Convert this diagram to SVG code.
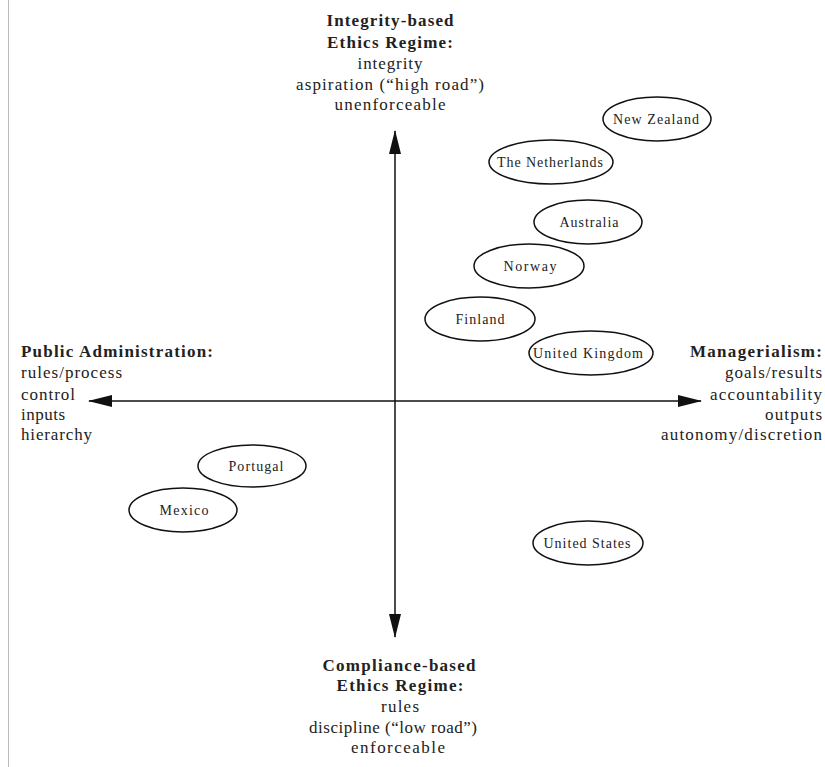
<svg xmlns="http://www.w3.org/2000/svg" width="825" height="767" viewBox="0 0 825 767">
<style>
  text { font-family: "Liberation Serif", "Times New Roman", serif; fill: #222; }
  .h { font-size: 17px; font-weight: bold; }
  .b { font-size: 17px; }
  .c { font-size: 14px; text-anchor: middle; }
  .mid { text-anchor: middle; }
  .end { text-anchor: end; }
  ellipse { fill: none; stroke: #111; stroke-width: 1.5; }
  .axis { stroke: #111; stroke-width: 1.5; fill: none; }
</style>
<defs>
  <marker id="arr" viewBox="0 0 24 12" refX="23" refY="6" markerWidth="24" markerHeight="12" markerUnits="userSpaceOnUse" orient="auto">
    <path d="M0,0 L24,6 L0,12 Z" fill="#111"/>
  </marker>
</defs>
<rect x="0" y="0" width="825" height="767" fill="#fff"/>
<line x1="8.5" y1="0" x2="8.5" y2="767" stroke="#bbb" stroke-width="1"/>

<g id="connectors">
  <line class="axis" x1="395" y1="400" x2="395" y2="131" marker-end="url(#arr)"/>
  <line class="axis" x1="395" y1="400" x2="395" y2="637" marker-end="url(#arr)"/>
  <line class="axis" x1="395" y1="401" x2="89" y2="401" marker-end="url(#arr)"/>
  <line class="axis" x1="395" y1="401" x2="701" y2="401" marker-end="url(#arr)"/>
</g>

<g id="integrity">
  <text class="h mid" x="390" y="26" textLength="127" lengthAdjust="spacing">Integrity-based</text>
  <text class="h mid" x="390" y="48" textLength="126" lengthAdjust="spacing">Ethics Regime:</text>
  <text class="b mid" x="390" y="69" textLength="65" lengthAdjust="spacing">integrity</text>
  <text class="b mid" x="390" y="90" textLength="188" lengthAdjust="spacing">aspiration (“high road”)</text>
  <text class="b mid" x="390" y="110" textLength="111" lengthAdjust="spacing">unenforceable</text>
</g>

<g id="compliance">
  <text class="h mid" x="399" y="671" textLength="153" lengthAdjust="spacing">Compliance-based</text>
  <text class="h mid" x="400" y="691" textLength="127" lengthAdjust="spacing">Ethics Regime:</text>
  <text class="b mid" x="400" y="712" textLength="38" lengthAdjust="spacing">rules</text>
  <text class="b mid" x="393" y="733" textLength="168" lengthAdjust="spacing">discipline (“low road”)</text>
  <text class="b mid" x="398" y="753" textLength="94" lengthAdjust="spacing">enforceable</text>
</g>

<g id="public-administration">
  <text class="h" x="21" y="357" textLength="192" lengthAdjust="spacing">Public Administration:</text>
  <text class="b" x="21" y="378" textLength="101" lengthAdjust="spacing">rules/process</text>
  <text class="b" x="21" y="400" textLength="54" lengthAdjust="spacing">control</text>
  <text class="b" x="21" y="420" textLength="44" lengthAdjust="spacing">inputs</text>
  <text class="b" x="21" y="440" textLength="71" lengthAdjust="spacing">hierarchy</text>
</g>

<g id="managerialism">
  <text class="h end" x="822" y="357" textLength="132" lengthAdjust="spacing">Managerialism:</text>
  <text class="b end" x="822" y="378" textLength="97" lengthAdjust="spacing">goals/results</text>
  <text class="b end" x="822" y="400" textLength="112" lengthAdjust="spacing">accountability</text>
  <text class="b end" x="822" y="420" textLength="57" lengthAdjust="spacing">outputs</text>
  <text class="b end" x="822" y="440" textLength="161" lengthAdjust="spacing">autonomy/discretion</text>
</g>

<g id="new-zealand">
  <ellipse cx="657" cy="119" rx="54" ry="22"/>
  <text class="c" x="656" y="124" textLength="86" lengthAdjust="spacing">New Zealand</text>
</g>
<g id="netherlands">
  <ellipse cx="551" cy="162" rx="62" ry="22"/>
  <text class="c" x="550" y="167" textLength="106" lengthAdjust="spacing">The Netherlands</text>
</g>
<g id="australia">
  <ellipse cx="588" cy="222" rx="54" ry="22"/>
  <text class="c" x="589" y="227" textLength="59" lengthAdjust="spacing">Australia</text>
</g>
<g id="norway">
  <ellipse cx="529" cy="266" rx="55" ry="22"/>
  <text class="c" x="530" y="271" textLength="53" lengthAdjust="spacing">Norway</text>
</g>
<g id="finland">
  <ellipse cx="480" cy="319" rx="55" ry="22"/>
  <text class="c" x="480" y="324" textLength="49" lengthAdjust="spacing">Finland</text>
</g>
<g id="united-kingdom">
  <ellipse cx="591" cy="353" rx="62" ry="22"/>
  <text class="c" x="588" y="358" textLength="110" lengthAdjust="spacing">United Kingdom</text>
</g>
<g id="portugal">
  <ellipse cx="252" cy="466" rx="54" ry="21"/>
  <text class="c" x="256" y="471" textLength="55" lengthAdjust="spacing">Portugal</text>
</g>
<g id="mexico">
  <ellipse cx="183" cy="510" rx="54" ry="22"/>
  <text class="c" x="184" y="515" textLength="49" lengthAdjust="spacing">Mexico</text>
</g>
<g id="united-states">
  <ellipse cx="588" cy="543" rx="55" ry="22"/>
  <text class="c" x="587" y="548" textLength="87" lengthAdjust="spacing">United States</text>
</g>
</svg>
